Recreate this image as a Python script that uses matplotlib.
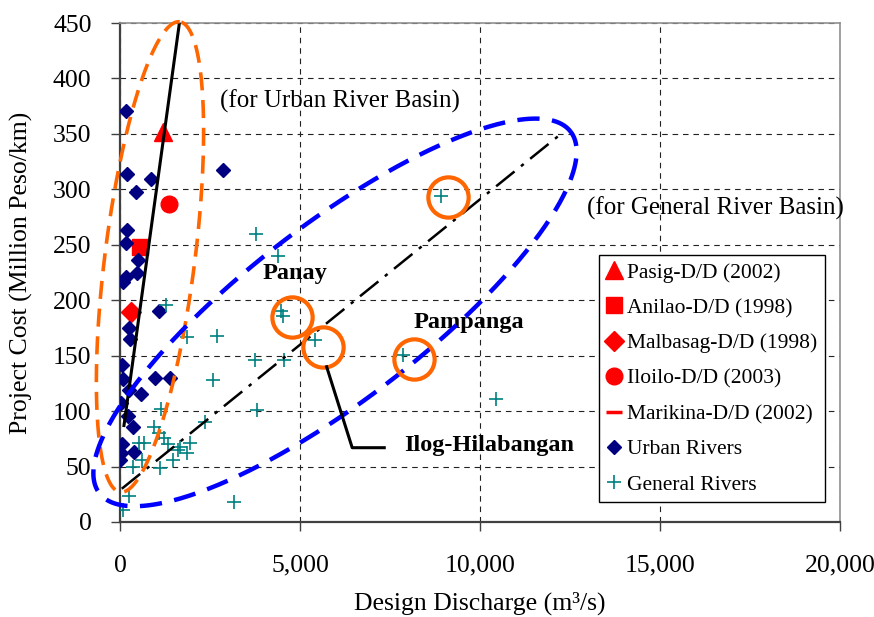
import numpy as np
import matplotlib.pyplot as plt
from matplotlib.ticker import FuncFormatter, MultipleLocator

plt.rcParams["font.family"] = ["Liberation Serif", "DejaVu Serif"]
plt.rcParams["lines.scale_dashes"] = False

# Urban rivers (design discharge m3/s, project cost million peso/km)
URBAN_Q = [160, 200, 860, 2850, 440, 200, 160, 510, 480, 160, 90, 1090, 250, 280,
           50, 90, 960, 1400, 250, 580, 30, 230, 370, 65, 400, 30, 0]
URBAN_COST = [371, 314, 309, 317, 298, 263, 252, 236, 225, 221, 216, 190, 175, 165,
              142, 129, 130, 130, 119, 115, 107, 96, 86, 70, 63, 62, 56]

# General rivers
GENERAL_Q = [3780, 4400, 1270, 1850, 2700, 2570, 3750, 4560, 4470, 4530, 5420, 3800,
             2360, 3170, 8930, 7860, 10450, 1150, 950, 1090, 1220, 540, 680, 1330,
             1670, 1940, 1850, 1600, 1480, 600, 370, 1110, 260, 90]
GENERAL_COST = [260, 240, 196, 167, 168, 128, 146, 146, 190, 186, 164, 101,
                90, 18, 294, 151, 111, 102, 86, 80, 76, 71, 71, 70,
                68, 71, 62, 65, 56, 56, 50, 49, 23, 11]

# Detailed design projects
PASIG_Q, PASIG_COST = [1200], [352]
ANILAO_Q, ANILAO_COST = [560], [248]
MALBASAG_Q, MALBASAG_COST = [300], [189]
ILOILO_Q, ILOILO_COST = [1360], [287]
MARIKINA_Q, MARIKINA_COST = [], []

# highlighted general rivers (Panay, Ilog-Hilabangan, Pampanga, top one)
HIGHLIGHT_Q = [4790, 5630, 8180, 9120]
HIGHLIGHT_COST = [185, 158, 147, 293]

# trend lines
URBAN_TREND_Q = [110, 1650]
URBAN_TREND_COST = [87, 450]
GENERAL_TREND_Q = [50, 12250]
GENERAL_TREND_COST = [30, 350]

ORANGE = "#FF6600"


def draw_ellipse(ax, center, half_len, half_wid, angle_deg, **kw):
    # ellipse sized in screen pixels around a data-space centre
    cx, cy = ax.transData.transform(center)
    t = np.linspace(0, 2 * np.pi, 400)
    a = np.deg2rad(angle_deg)
    px = cx + half_len * np.cos(t) * np.cos(a) - half_wid * np.sin(t) * np.sin(a)
    py = cy + half_len * np.cos(t) * np.sin(a) + half_wid * np.sin(t) * np.cos(a)
    pts = ax.transData.inverted().transform(np.column_stack([px, py]))
    ax.plot(pts[:, 0], pts[:, 1], clip_on=False, **kw)


fig = plt.figure(figsize=(8.74, 6.17), dpi=100)
ax = fig.add_axes([120 / 874, 1 - 522 / 617, 720 / 874, 499 / 617])

ax.set_xlim(0, 20000)
ax.set_ylim(0, 450)
ax.xaxis.set_major_locator(MultipleLocator(5000))
ax.yaxis.set_major_locator(MultipleLocator(50))
ax.xaxis.set_major_formatter(FuncFormatter(lambda v, p: f"{v:,.0f}"))

ax.grid(True, color="#222222", linestyle=(0, (4, 3.5)), linewidth=0.8)
ax.set_axisbelow(True)

for side in ["left", "bottom"]:
    ax.spines[side].set_color("#404040")
    ax.spines[side].set_linewidth(1.6)
for side in ["top", "right"]:
    ax.spines[side].set_color("#909090")
    ax.spines[side].set_linewidth(1.2)

ax.tick_params(axis="both", direction="out", length=6.5, width=1, colors="#404040",
               labelcolor="black", labelsize=18.5)
ax.tick_params(axis="x", pad=17)
ax.tick_params(axis="y", pad=14)

ax.set_xlabel("Design Discharge (m³/s)", fontsize=18.5)
ax.set_ylabel("Project Cost (Million Peso/km)", fontsize=18.5)
ax.xaxis.set_label_coords(0.5, -0.14)
ax.yaxis.set_label_coords(-0.121, 0.5)

h_pasig, = ax.plot(PASIG_Q, PASIG_COST, "^", color="red", ms=13, ls="none", zorder=3,
                   label="Pasig-D/D (2002)")
h_anilao, = ax.plot(ANILAO_Q, ANILAO_COST, "s", color="red", ms=11, ls="none", zorder=3,
                    label="Anilao-D/D (1998)")
h_malb, = ax.plot(MALBASAG_Q, MALBASAG_COST, "D", color="red", ms=10, ls="none", zorder=3,
                  label="Malbasag-D/D (1998)")
h_iloilo, = ax.plot(ILOILO_Q, ILOILO_COST, "o", color="red", ms=12, ls="none", zorder=3,
                    label="Iloilo-D/D (2003)")
h_marikina, = ax.plot(MARIKINA_Q, MARIKINA_COST, "_", color="red", ms=11, mew=2.5, ls="none",
                      label="Marikina-D/D (2002)")
h_urban, = ax.plot(URBAN_Q, URBAN_COST, "D", color="#000080", ms=7, ls="none", zorder=3,
                   label="Urban Rivers")
h_general, = ax.plot(GENERAL_Q, GENERAL_COST, "+", color="#008080", ms=10, mew=1.2,
                     ls="none", zorder=3, label="General Rivers")

ax.plot(URBAN_TREND_Q, URBAN_TREND_COST, color="black", lw=2.2, zorder=4)
ax.plot(GENERAL_TREND_Q, GENERAL_TREND_COST, color="black", lw=1.8,
        linestyle=(0, (17, 6, 2.5, 6)), zorder=4)

draw_ellipse(ax, (833, 239), 237, 45, 82.8, color=ORANGE, lw=2.6,
             linestyle=(0, (13, 7)), zorder=5)
draw_ellipse(ax, (5972, 189), 297, 88, 37.5, color="#0000FF", lw=3.2,
             linestyle=(0, (16, 9)), zorder=5)

ax.plot(HIGHLIGHT_Q, HIGHLIGHT_COST, "o", ms=29, mfc="none", mec=ORANGE, mew=3,
        ls="none", zorder=6)

# leader line to Ilog-Hilabangan
ax.plot([5740, 6450, 7340], [140, 67, 67], color="black", lw=2.2, zorder=6)

bold = dict(fontsize=17.5, fontweight="bold")
ax.text(4860, 224, "Panay", ha="center", va="center", **bold)
ax.text(9690, 180, "Pampanga", ha="center", va="center", **bold)
ax.text(7900, 69, "Ilog-Hilabangan", ha="left", va="center", **bold)
ax.text(6110, 379, "(for Urban River Basin)", ha="center", va="center", fontsize=18)
ax.text(16530, 283, "(for General River Basin)", ha="center", va="center", fontsize=18)

leg = ax.legend(handles=[h_pasig, h_anilao, h_malb, h_iloilo, h_marikina, h_urban, h_general],
                loc="upper left", bbox_to_anchor=(0.665, 0.535), borderaxespad=0,
                fontsize=15.5, handlelength=0.7, handletextpad=0.25, borderpad=0.35,
                labelspacing=0.71, fancybox=False, framealpha=1, edgecolor="black")
leg.get_frame().set_linewidth(1.0)
leg.set_zorder(7)

fig.savefig("out.png", dpi=100)
